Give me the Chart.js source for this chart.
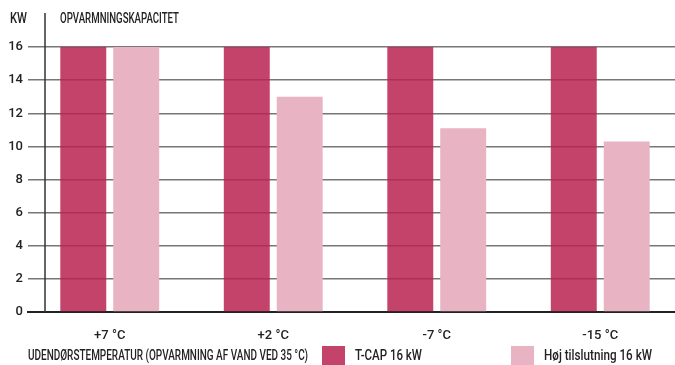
<!DOCTYPE html>
<html><head><meta charset="utf-8">
<script src="https://cdn.jsdelivr.net/npm/chart.js@4"></script>
<style>html,body{margin:0;padding:0;overflow:hidden;background:#fff}#wrap{position:relative;width:700px;height:365px}</style>
</head><body><div id="wrap"><canvas id="c" width="700" height="365"></canvas></div>
<script>
const categories = ['+7 °C', '+2 °C', '-7 °C', '-15 °C'];
const tcapValues = [16, 16, 16, 16];
const hojValues = [16, 13, 11.1, 10.3];
const seriesLabels = ['T-CAP 16 kW', 'Høj tilslutning 16 kW'];
const yMin = 0, yMax = 16, yStep = 2;
const unitLabel = 'KW';
const chartTitle = 'OPVARMNINGSKAPACITET';
const xCaption = 'UDENDØRSTEMPERATUR (OPVARMNING AF VAND VED 35 °C)';

const FONT = 'Roboto, "Liberation Sans", sans-serif';
const TXT = '#222';
const DARK = 'rgba(186,34,80,0.85)';
const LIGHT = '#e8b3c3';

const decor = {
  id: 'decor',
  afterDraw(chart) {
    const {ctx, chartArea} = chart;
    ctx.save();
    ctx.strokeStyle = '#333';
    ctx.lineWidth = 1.5;
    ctx.beginPath();
    ctx.moveTo(chartArea.left + 17, 13);
    ctx.lineTo(chartArea.left + 17, chartArea.bottom);
    ctx.stroke();
    ctx.fillStyle = TXT;
    ctx.font = '500 14.5px ' + FONT;
    ctx.textBaseline = 'middle';
    ctx.textAlign = 'left';
    ctx.fillText(unitLabel, 10, 19, 17);
    ctx.fillText(chartTitle, 60, 19, 119);
    const y = 356;
    ctx.fillText(xCaption, 28, y, 280);
    const pos = [322, 511];
    const widths = [67, 108];
    chart.data.datasets.forEach((ds, i) => {
      ctx.fillStyle = ds.legendColor;
      ctx.fillRect(pos[i], 346, 23, 21);
      ctx.fillStyle = TXT;
      ctx.fillText(ds.label, pos[i] + 33, y, widths[i]);
    });
    ctx.restore();
  }
};

new Chart(document.getElementById('c'), {
  type: 'bar',
  data: {
    labels: categories,
    datasets: [
      {label: seriesLabels[0], data: tcapValues, backgroundColor: DARK, legendColor: DARK,
       barPercentage: 0.868, categoryPercentage: 0.6475},
      {label: seriesLabels[1], data: hojValues, backgroundColor: LIGHT, legendColor: LIGHT,
       barPercentage: 0.868, categoryPercentage: 0.6475}
    ]
  },
  options: {
    responsive: false,
    animation: false,
    devicePixelRatio: 1,
    layout: {padding: {top: 47, left: 0, right: 18, bottom: 0}},
    plugins: {legend: {display: false}, tooltip: {enabled: false}, title: {display: false}},
    scales: {
      x: {
        grid: {display: false},
        border: {display: true, color: '#222', width: 2},
        ticks: {padding: 8, color: TXT, font: {family: FONT, size: 13, weight: '500'}},
        afterFit(s) { s.height = 53; }
      },
      y: {
        min: yMin, max: yMax,
        ticks: {stepSize: yStep, padding: 5, color: TXT, font: {family: FONT, size: 13, weight: '500'}},
        grid: {color: '#777', lineWidth: 1.5, drawTicks: false},
        border: {display: false},
        afterFit(s) { s.width = 28; }
      }
    }
  },
  plugins: [decor]
});
</script>
</body></html>
